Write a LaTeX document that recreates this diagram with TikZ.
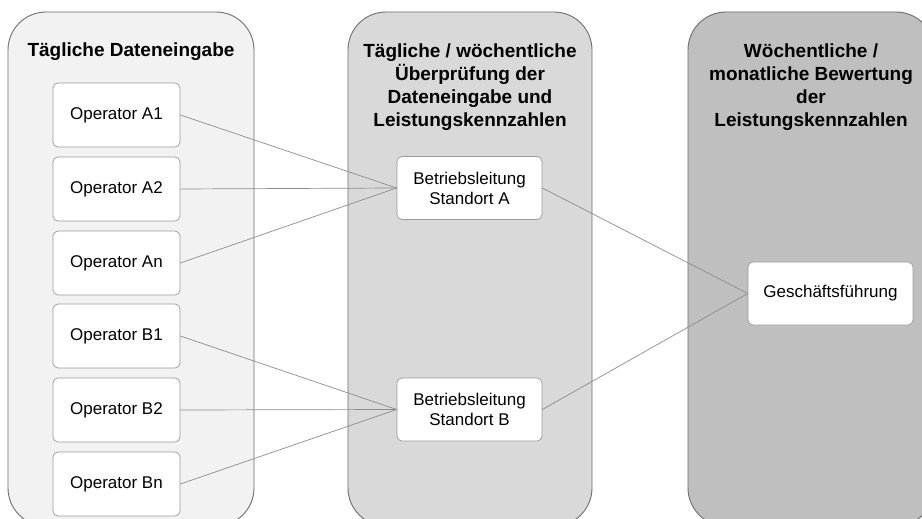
\documentclass[tikz,border=0pt]{standalone}
\usepackage{fontspec}
\setmainfont{Liberation Sans}
\definecolor{paneA}{HTML}{F2F2F2}
\definecolor{paneB}{HTML}{D9D9D9}
\definecolor{paneC}{HTML}{BFBFBF}
\definecolor{paneline}{HTML}{6E6E6E}
\definecolor{boxline}{HTML}{9A9A9A}
\definecolor{conn}{HTML}{8C8C8C}
\begin{document}
\begin{tikzpicture}[x=1pt,y=-1pt,
  pane/.style={draw=paneline,line width=0.9pt,rounded corners=38pt},
  head/.style={font=\fontsize{19}{23}\selectfont\bfseries,align=center,inner sep=0pt},
  opbox/.style={draw=boxline,fill=white,rounded corners=5pt,line width=0.7pt,minimum width=127pt,minimum height=64pt,font=\fontsize{17}{20}\selectfont,align=center,inner sep=0pt},
  conline/.style={draw=conn,line width=0.7pt}]
\useasboundingbox (0,0) rectangle (922,519);
\clip (0,0) rectangle (922,519);
\fill[white] (0,0) rectangle (922,519);
% panes
\draw[pane,fill=paneA] (8,12) rectangle (254,526);
\draw[pane,fill=paneB] (348,12) rectangle (592,526);
\draw[pane,fill=paneC] (688,12) rectangle (934,526);
% headers
\node[head] (h1) at (131,52) {Tägliche Dateneingabe};
\node[head] (h2) at (470,87) {Tägliche / wöchentliche\\Überprüfung der\\Dateneingabe und\\Leistungskennzahlen};
\node[head] (h3) at (811,87) {Wöchentliche /\\monatliche Bewertung\\der\\Leistungskennzahlen};
% operator boxes
\node[opbox] (a1) at (116.5,115) {Operator A1};
\node[opbox] (a2) at (116.5,189) {Operator A2};
\node[opbox] (an) at (116.5,263) {Operator An};
\node[opbox] (b1) at (116.5,336) {Operator B1};
\node[opbox] (b2) at (116.5,410) {Operator B2};
\node[opbox] (bn) at (116.5,484) {Operator Bn};
% middle
\node[opbox,minimum width=145pt,minimum height=63pt] (sa) at (469.5,188) {Betriebsleitung\\Standort A};
\node[opbox,minimum width=145pt,minimum height=63pt] (sb) at (469.5,409.5) {Betriebsleitung\\Standort B};
% right
\node[opbox,minimum width=165pt,minimum height=63pt] (gf) at (830.5,293.5) {Geschäftsführung};
% connectors
\draw[conline] (a1.east) -- (sa.west);
\draw[conline] (a2.east) -- (sa.west);
\draw[conline] (an.east) -- (sa.west);
\draw[conline] (b1.east) -- (sb.west);
\draw[conline] (b2.east) -- (sb.west);
\draw[conline] (bn.east) -- (sb.west);
\draw[conline] (sa.east) -- (gf.west);
\draw[conline] (sb.east) -- (gf.west);
\end{tikzpicture}
\end{document}
